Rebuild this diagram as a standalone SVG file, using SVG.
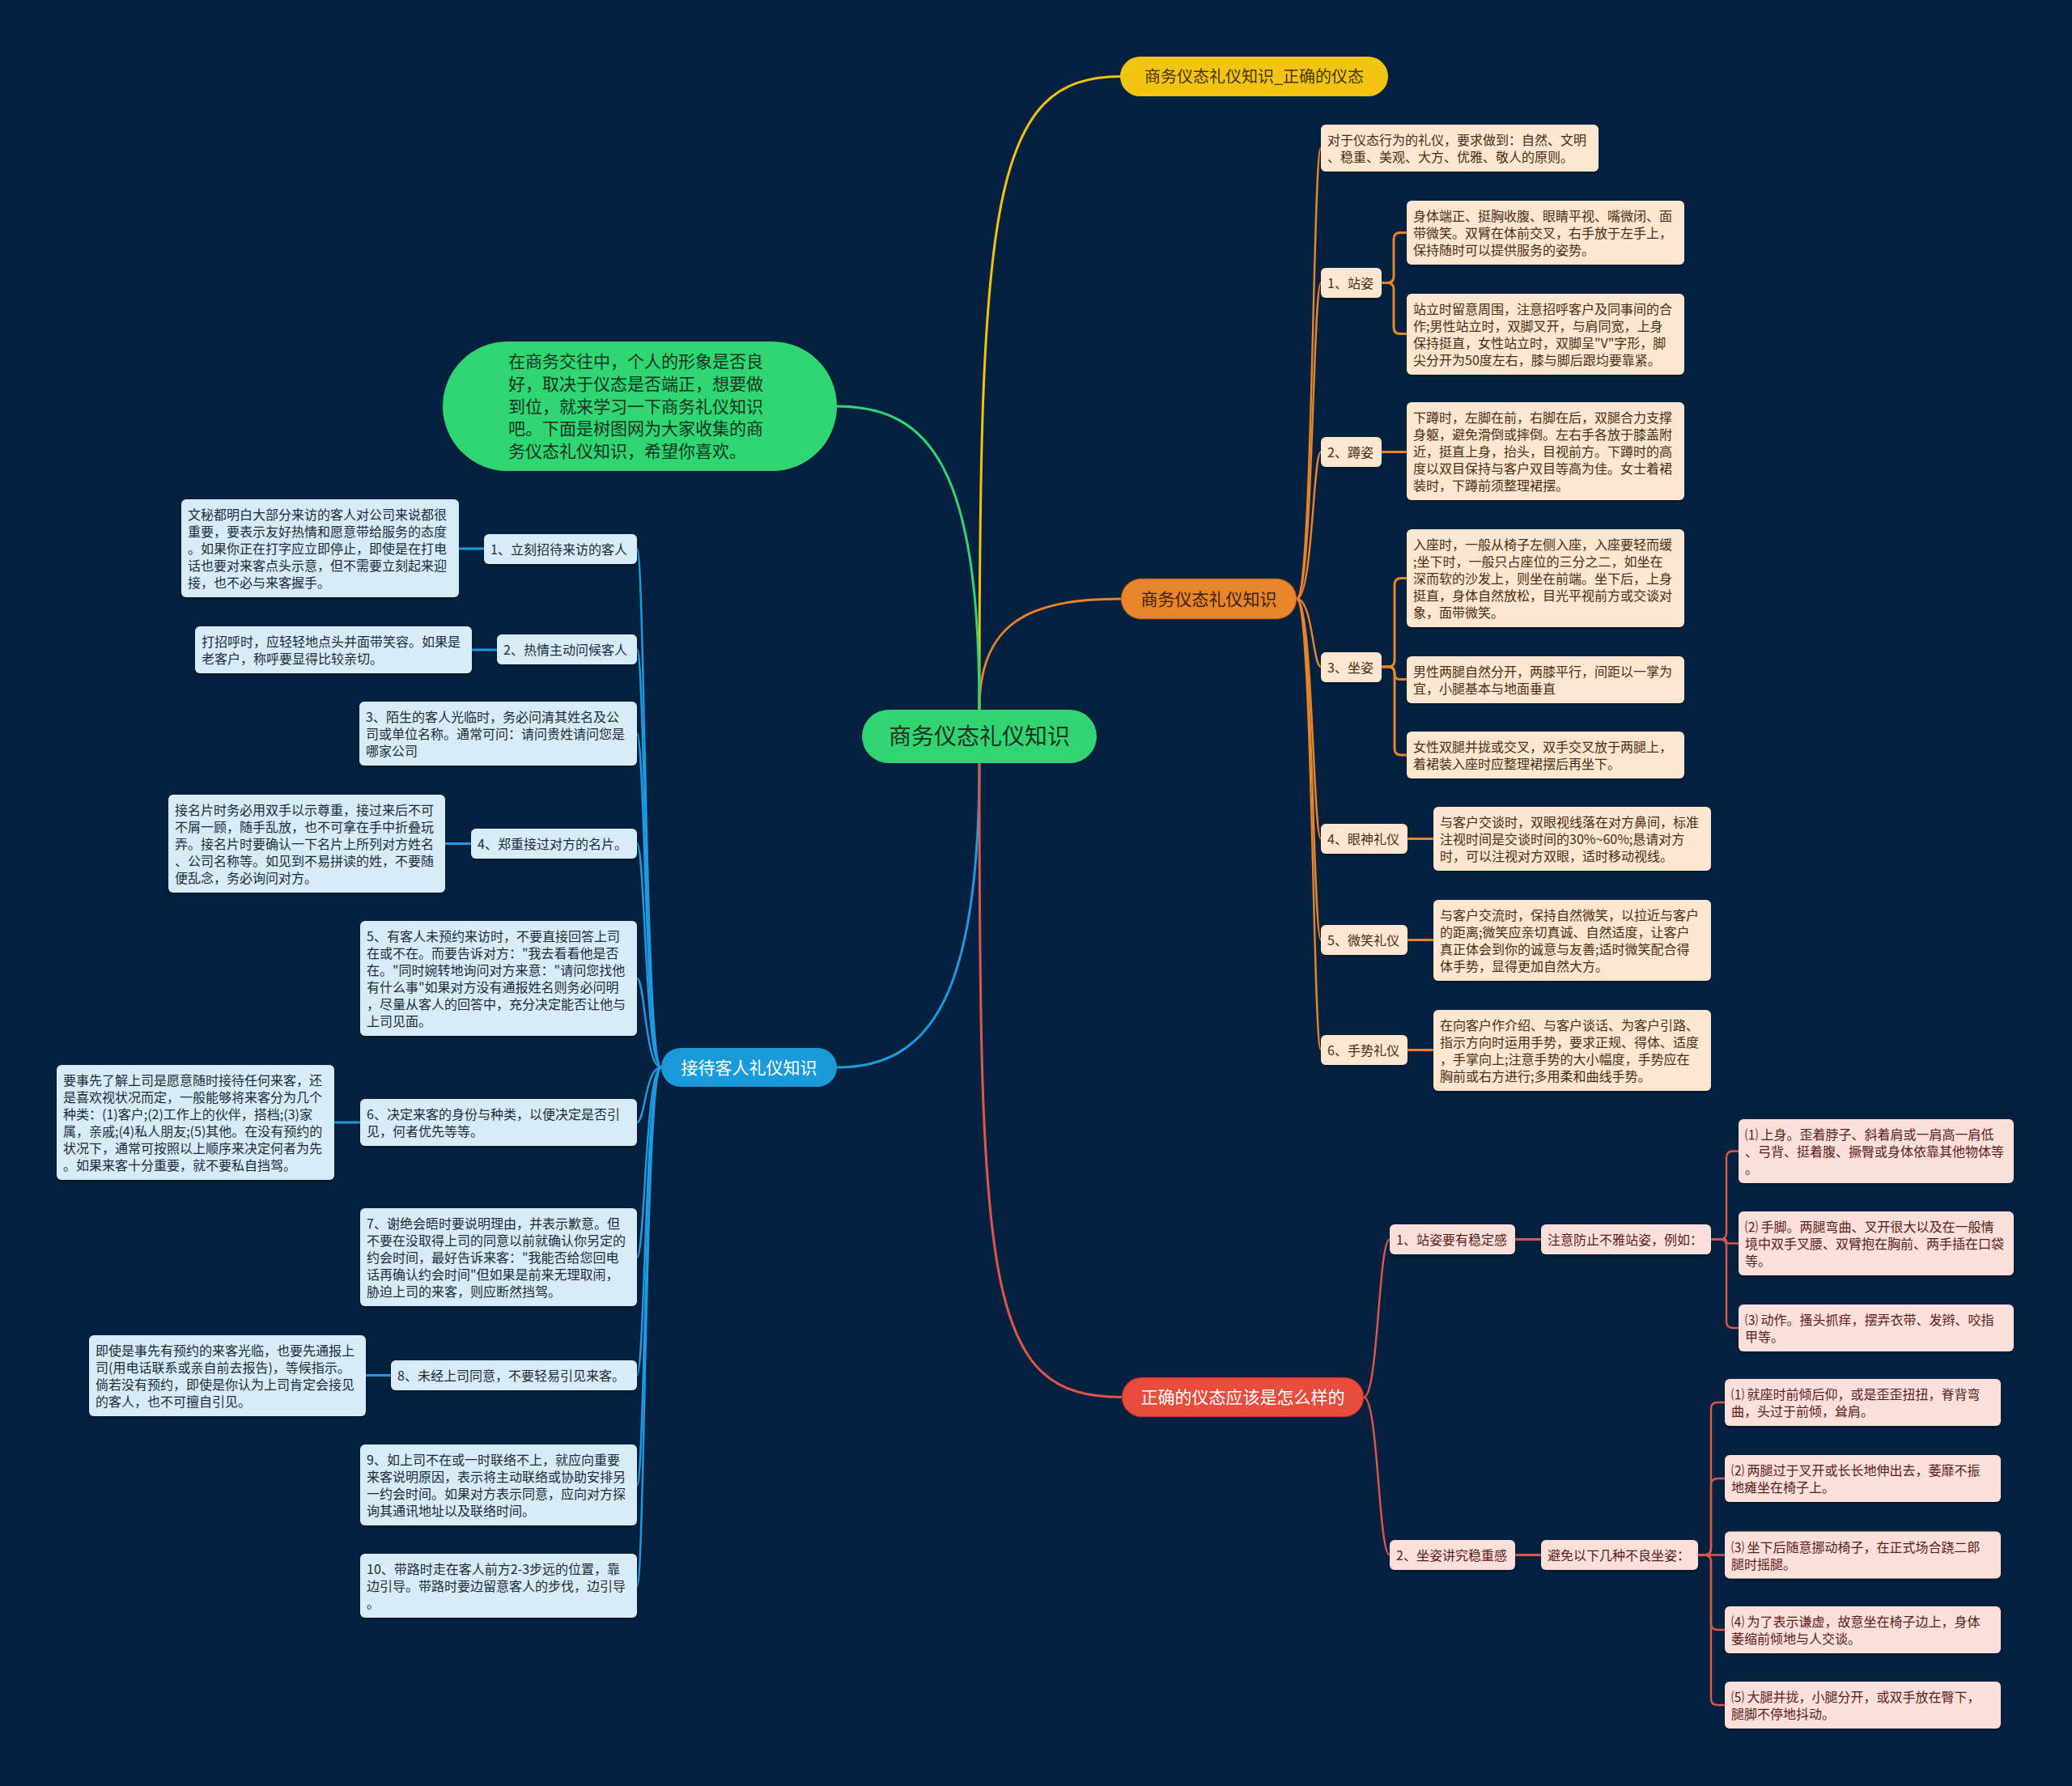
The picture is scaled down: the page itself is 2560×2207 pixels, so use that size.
<svg xmlns="http://www.w3.org/2000/svg" width="2560" height="2207" viewBox="0 0 2560 2207">
<defs>
<style>
text{font-family:"Noto Sans CJK SC","Noto Sans",sans-serif;}
.oc rect{fill:#fce6cf;filter:url(#sh)}
.oc text{fill:#4a2d12;font-size:16px}
.bc rect{fill:#d6edf9;filter:url(#sh)}
.bc text{fill:#1b2a3a;font-size:16px}
.rc rect{fill:#fcdedb;filter:url(#sh)}
.rc text{fill:#5a1c14;font-size:16px}
.c{fill:none;stroke-width:3;stroke-linecap:round}
.c2{stroke-width:2.4}
.co{stroke:#e8852b}
.cb{stroke:#1f9ae0}
.cr{stroke:#e0564a}
.cg{stroke:#2fd672}
.cy{stroke:#f1c40f}
.mid{text-anchor:middle}
</style>
<filter id="sh" x="-10%" y="-20%" width="120%" height="150%"><feDropShadow dx="0" dy="2" stdDeviation="1.5" flood-color="#000" flood-opacity="0.35"/></filter>
</defs>
<rect x="0" y="0" width="2560" height="2207" fill="#04213f"/>

<g id="connectors">
<!-- main branches -->
<path class="c cy" d="M1210 877 C1210 250 1225 94.5 1384 94.5"/>
<path class="c co" d="M1210 877 C1210 770 1270 740 1385 740"/>
<path class="c cg" d="M1210 877 C1210 580 1150 502 1034 502"/>
<path class="c cb" d="M1210 943 C1210 1230 1150 1319 1034 1319"/>
<path class="c cr" d="M1210 943 C1210 1600 1220 1726.5 1386 1726.5"/>
<!-- orange level 2 -->
<path class="c c2 co" d="M1602 740 C1622 740 1622 183 1632 183"/>
<path class="c c2 co" d="M1602 740 C1622 740 1622 349.5 1632 349.5"/>
<path class="c c2 co" d="M1602 740 C1622 740 1622 558.5 1632 558.5"/>
<path class="c c2 co" d="M1602 740 C1622 740 1622 824 1632 824"/>
<path class="c c2 co" d="M1602 740 C1622 740 1622 1036.5 1632 1036.5"/>
<path class="c c2 co" d="M1602 740 C1622 740 1622 1161.5 1632 1161.5"/>
<path class="c c2 co" d="M1602 740 C1622 740 1622 1297 1632 1297"/>
<!-- orange level 3 -->
<path class="c co" d="M1707 349.5 H1714 Q1722 349.5 1722 341.5 V295.5 Q1722 287.5 1730 287.5 H1738"/>
<path class="c co" d="M1707 349.5 H1714 Q1722 349.5 1722 357.5 V404.5 Q1722 412.5 1730 412.5 H1738"/>
<path class="c co" d="M1707 558.5 H1738"/>
<path class="c co" d="M1707 824 H1715 Q1723 824 1723 816 V722.5 Q1723 714.5 1731 714.5 H1738"/>
<path class="c co" d="M1707 824 H1716 Q1723 824 1723 831 V832.5 Q1723 839.5 1730 839.5 H1738"/>
<path class="c co" d="M1707 824 H1715 Q1723 824 1723 832 V925 Q1723 933 1731 933 H1738"/>
<path class="c co" d="M1739 1036.5 H1771"/>
<path class="c co" d="M1739 1161.5 H1771"/>
<path class="c co" d="M1739 1297.5 H1771"/>
<!-- red level 2 -->
<path class="c c2 cr" d="M1685 1726.5 C1703 1726.5 1703 1531.5 1717 1531.5"/>
<path class="c c2 cr" d="M1685 1726.5 C1703 1726.5 1703 1921.5 1717 1921.5"/>
<path class="c cr" d="M1872 1531.5 H1904"/>
<path class="c cr" d="M1872 1921.5 H1904"/>
<!-- red level 4 -->
<path class="c c2 cr" d="M2114 1531.5 H2125 Q2133 1531.5 2133 1523.5 V1430.5 Q2133 1422.5 2141 1422.5 H2148"/>
<path class="c c2 cr" d="M2114 1531.5 H2130.5 Q2133 1531.5 2133 1534 Q2133 1536.5 2135.5 1536.5 H2148"/>
<path class="c c2 cr" d="M2114 1531.5 H2125 Q2133 1531.5 2133 1539.5 V1633 Q2133 1641 2141 1641 H2148"/>
<path class="c c2 cr" d="M2098 1921.5 H2106 Q2114 1921.5 2114 1913.5 V1741 Q2114 1733 2122 1733 H2131"/>
<path class="c c2 cr" d="M2098 1921.5 H2106 Q2114 1921.5 2114 1913.5 V1835 Q2114 1827 2122 1827 H2131"/>
<path class="c c2 cr" d="M2098 1921.5 H2131"/>
<path class="c c2 cr" d="M2098 1921.5 H2106 Q2114 1921.5 2114 1929.5 V2006 Q2114 2014 2122 2014 H2131"/>
<path class="c c2 cr" d="M2098 1921.5 H2106 Q2114 1921.5 2114 1929.5 V2099 Q2114 2107 2122 2107 H2131"/>
<!-- blue level 2 -->
<path class="c c2 cb" d="M817 1319 C797 1319 797 678.5 787 678.5"/>
<path class="c c2 cb" d="M817 1319 C797 1319 797 802.5 787 802.5"/>
<path class="c c2 cb" d="M817 1319 C797 1319 797 906.5 787 906.5"/>
<path class="c c2 cb" d="M817 1319 C797 1319 797 1042.5 787 1042.5"/>
<path class="c c2 cb" d="M817 1319 C797 1319 797 1209 787 1209"/>
<path class="c c2 cb" d="M817 1319 C797 1319 797 1387 787 1387"/>
<path class="c c2 cb" d="M817 1319 C797 1319 797 1553.5 787 1553.5"/>
<path class="c c2 cb" d="M817 1319 C797 1319 797 1699.5 787 1699.5"/>
<path class="c c2 cb" d="M817 1319 C797 1319 797 1835 787 1835"/>
<path class="c c2 cb" d="M817 1319 C797 1319 797 1959.5 787 1959.5"/>
<!-- blue level 3 -->
<path class="c cb" d="M567 678 H598"/>
<path class="c cb" d="M583 803 H614"/>
<path class="c cb" d="M550 1042.5 H582"/>
<path class="c cb" d="M413 1387 H445"/>
<path class="c cb" d="M452 1699.5 H483"/>
</g>

<g id="center">
<rect x="1065" y="877" width="290" height="66" rx="33" fill="#33d572"/>
<text class="mid" x="1210" y="920" font-size="28" fill="#1b3326">商务仪态礼仪知识</text>
</g>

<g id="intro">
<rect x="547" y="422" width="487" height="160" rx="80" fill="#2fd672"/>
<text x="628" y="454" font-size="21" fill="#1b3326"><tspan x="628" dy="0">在商务交往中，个人的形象是否良</tspan><tspan x="628" dy="27.75">好，取决于仪态是否端正，想要做</tspan><tspan x="628" dy="27.75">到位，就来学习一下商务礼仪知识</tspan><tspan x="628" dy="27.75">吧。下面是树图网为大家收集的商</tspan><tspan x="628" dy="27.75">务仪态礼仪知识，希望你喜欢。</tspan></text>
</g>

<g id="yellow">
<rect x="1384" y="70" width="331" height="49" rx="24.5" fill="#f2c511"/>
<text class="mid" x="1549.5" y="101.5" font-size="20" fill="#4a3510">商务仪态礼仪知识_正确的仪态</text>
</g>

<g id="orange">
<rect x="1385" y="715" width="217" height="50" rx="25" fill="#e8842a" stroke="#7a4414" stroke-opacity="0.5" stroke-width="1.5"/>
<text class="mid" x="1493.5" y="748" font-size="21" fill="#3d2212">商务仪态礼仪知识</text>
</g>

<g id="oA" class="oc"><rect x="1632" y="154" width="343" height="58" rx="6"/><text x="1640" y="179"><tspan x="1640" dy="0">对于仪态行为的礼仪，要求做到：自然、文明</tspan><tspan x="1640" dy="21">、稳重、美观、大方、优雅、敬人的原则。</tspan></text></g>
<g id="oB" class="oc"><rect x="1632" y="331" width="75" height="37" rx="6"/><text x="1640" y="356">1、站姿</text></g>
<g id="oB1" class="oc"><rect x="1738" y="248" width="343" height="79" rx="6"/><text x="1746" y="273"><tspan x="1746" dy="0">身体端正、挺胸收腹、眼睛平视、嘴微闭、面</tspan><tspan x="1746" dy="21">带微笑。双臂在体前交叉，右手放于左手上，</tspan><tspan x="1746" dy="21">保持随时可以提供服务的姿势。</tspan></text></g>
<g id="oB2" class="oc"><rect x="1738" y="363" width="343" height="100" rx="6"/><text x="1746" y="388"><tspan x="1746" dy="0">站立时留意周围，注意招呼客户及同事间的合</tspan><tspan x="1746" dy="21">作;男性站立时，双脚叉开，与肩同宽，上身</tspan><tspan x="1746" dy="21">保持挺直，女性站立时，双脚呈"V"字形，脚</tspan><tspan x="1746" dy="21">尖分开为50度左右，膝与脚后跟均要靠紧。</tspan></text></g>
<g id="oC" class="oc"><rect x="1632" y="540" width="75" height="37" rx="6"/><text x="1640" y="565">2、蹲姿</text></g>
<g id="oC1" class="oc"><rect x="1738" y="497" width="343" height="121" rx="6"/><text x="1746" y="522"><tspan x="1746" dy="0">下蹲时，左脚在前，右脚在后，双腿合力支撑</tspan><tspan x="1746" dy="21">身躯，避免滑倒或摔倒。左右手各放于膝盖附</tspan><tspan x="1746" dy="21">近，挺直上身，抬头，目视前方。下蹲时的高</tspan><tspan x="1746" dy="21">度以双目保持与客户双目等高为佳。女士着裙</tspan><tspan x="1746" dy="21">装时，下蹲前须整理裙摆。</tspan></text></g>
<g id="oD" class="oc"><rect x="1632" y="806" width="75" height="37" rx="6"/><text x="1640" y="831">3、坐姿</text></g>
<g id="oD1" class="oc"><rect x="1738" y="654" width="343" height="121" rx="6"/><text x="1746" y="679"><tspan x="1746" dy="0">入座时，一般从椅子左侧入座，入座要轻而缓</tspan><tspan x="1746" dy="21">;坐下时，一般只占座位的三分之二，如坐在</tspan><tspan x="1746" dy="21">深而软的沙发上，则坐在前端。坐下后，上身</tspan><tspan x="1746" dy="21">挺直，身体自然放松，目光平视前方或交谈对</tspan><tspan x="1746" dy="21">象，面带微笑。</tspan></text></g>
<g id="oD2" class="oc"><rect x="1738" y="811" width="343" height="58" rx="6"/><text x="1746" y="836"><tspan x="1746" dy="0">男性两腿自然分开，两膝平行，间距以一掌为</tspan><tspan x="1746" dy="21">宜，小腿基本与地面垂直</tspan></text></g>
<g id="oD3" class="oc"><rect x="1738" y="904" width="343" height="58" rx="6"/><text x="1746" y="929"><tspan x="1746" dy="0">女性双腿并拢或交叉，双手交叉放于两腿上，</tspan><tspan x="1746" dy="21">着裙装入座时应整理裙摆后再坐下。</tspan></text></g>
<g id="oE" class="oc"><rect x="1632" y="1018" width="107" height="37" rx="6"/><text x="1640" y="1043">4、眼神礼仪</text></g>
<g id="oE1" class="oc"><rect x="1771" y="997" width="343" height="79" rx="6"/><text x="1779" y="1022"><tspan x="1779" dy="0">与客户交谈时，双眼视线落在对方鼻间，标准</tspan><tspan x="1779" dy="21">注视时间是交谈时间的30%~60%;恳请对方</tspan><tspan x="1779" dy="21">时，可以注视对方双眼，适时移动视线。</tspan></text></g>
<g id="oF" class="oc"><rect x="1632" y="1143" width="107" height="37" rx="6"/><text x="1640" y="1168">5、微笑礼仪</text></g>
<g id="oF1" class="oc"><rect x="1771" y="1112" width="343" height="100" rx="6"/><text x="1779" y="1137"><tspan x="1779" dy="0">与客户交流时，保持自然微笑，以拉近与客户</tspan><tspan x="1779" dy="21">的距离;微笑应亲切真诚、自然适度，让客户</tspan><tspan x="1779" dy="21">真正体会到你的诚意与友善;适时微笑配合得</tspan><tspan x="1779" dy="21">体手势，显得更加自然大方。</tspan></text></g>
<g id="oG" class="oc"><rect x="1632" y="1279" width="107" height="37" rx="6"/><text x="1640" y="1304">6、手势礼仪</text></g>
<g id="oG1" class="oc"><rect x="1771" y="1248" width="343" height="100" rx="6"/><text x="1779" y="1273"><tspan x="1779" dy="0">在向客户作介绍、与客户谈话、为客户引路、</tspan><tspan x="1779" dy="21">指示方向时运用手势，要求正规、得体、适度</tspan><tspan x="1779" dy="21">，手掌向上;注意手势的大小幅度，手势应在</tspan><tspan x="1779" dy="21">胸前或右方进行;多用柔和曲线手势。</tspan></text></g>

<g id="red">
<rect x="1386" y="1702" width="299" height="49" rx="24.5" fill="#e74c3c" stroke="#7a1e14" stroke-opacity="0.5" stroke-width="1.5"/>
<text class="mid" x="1535.5" y="1734" font-size="21" fill="#ffffff">正确的仪态应该是怎么样的</text>
</g>
<g id="r1" class="rc"><rect x="1717" y="1513" width="155" height="37" rx="6"/><text x="1725" y="1538">1、站姿要有稳定感</text></g>
<g id="r1a" class="rc"><rect x="1904" y="1513" width="210" height="37" rx="6"/><text x="1912" y="1538">注意防止不雅站姿，例如：</text></g>
<g id="rH1" class="rc"><rect x="2148" y="1383" width="340" height="79" rx="6"/><text x="2156" y="1408"><tspan x="2156" dy="0">⑴ 上身。歪着脖子、斜着肩或一肩高一肩低</tspan><tspan x="2156" dy="21">、弓背、挺着腹、撅臀或身体依靠其他物体等</tspan><tspan x="2156" dy="21">。</tspan></text></g>
<g id="rH2" class="rc"><rect x="2148" y="1497" width="340" height="79" rx="6"/><text x="2156" y="1522"><tspan x="2156" dy="0">⑵ 手脚。两腿弯曲、叉开很大以及在一般情</tspan><tspan x="2156" dy="21">境中双手叉腰、双臂抱在胸前、两手插在口袋</tspan><tspan x="2156" dy="21">等。</tspan></text></g>
<g id="rH3" class="rc"><rect x="2148" y="1612" width="340" height="58" rx="6"/><text x="2156" y="1637"><tspan x="2156" dy="0">⑶ 动作。搔头抓痒，摆弄衣带、发辫、咬指</tspan><tspan x="2156" dy="21">甲等。</tspan></text></g>
<g id="r2" class="rc"><rect x="1717" y="1903" width="155" height="37" rx="6"/><text x="1725" y="1928">2、坐姿讲究稳重感</text></g>
<g id="r2a" class="rc"><rect x="1904" y="1903" width="194" height="37" rx="6"/><text x="1912" y="1928">避免以下几种不良坐姿：</text></g>
<g id="rI1" class="rc"><rect x="2131" y="1704" width="341" height="58" rx="6"/><text x="2139" y="1729"><tspan x="2139" dy="0">⑴ 就座时前倾后仰，或是歪歪扭扭，脊背弯</tspan><tspan x="2139" dy="21">曲，头过于前倾，耸肩。</tspan></text></g>
<g id="rI2" class="rc"><rect x="2131" y="1798" width="341" height="58" rx="6"/><text x="2139" y="1823"><tspan x="2139" dy="0">⑵ 两腿过于叉开或长长地伸出去，萎靡不振</tspan><tspan x="2139" dy="21">地瘫坐在椅子上。</tspan></text></g>
<g id="rI3" class="rc"><rect x="2131" y="1892.5" width="341" height="58" rx="6"/><text x="2139" y="1917.5"><tspan x="2139" dy="0">⑶ 坐下后随意挪动椅子，在正式场合跷二郎</tspan><tspan x="2139" dy="21">腿时摇腿。</tspan></text></g>
<g id="rI4" class="rc"><rect x="2131" y="1985" width="341" height="58" rx="6"/><text x="2139" y="2010"><tspan x="2139" dy="0">⑷ 为了表示谦虚，故意坐在椅子边上，身体</tspan><tspan x="2139" dy="21">萎缩前倾地与人交谈。</tspan></text></g>
<g id="rI5" class="rc"><rect x="2131" y="2078" width="341" height="58" rx="6"/><text x="2139" y="2103"><tspan x="2139" dy="0">⑸ 大腿并拢，小腿分开，或双手放在臀下，</tspan><tspan x="2139" dy="21">腿脚不停地抖动。</tspan></text></g>

<g id="blue">
<rect x="817" y="1295" width="217" height="48" rx="24" fill="#1b9ad9"/>
<text class="mid" x="925.5" y="1326.5" font-size="21" fill="#ffffff">接待客人礼仪知识</text>
</g>
<g id="bJ" class="bc"><rect x="598" y="660" width="189" height="37" rx="6"/><text x="606" y="685">1、立刻招待来访的客人</text></g>
<g id="bJ1" class="bc"><rect x="224" y="617" width="343" height="121" rx="6"/><text x="232" y="642"><tspan x="232" dy="0">文秘都明白大部分来访的客人对公司来说都很</tspan><tspan x="232" dy="21">重要，要表示友好热情和愿意带给服务的态度</tspan><tspan x="232" dy="21">。如果你正在打字应立即停止，即使是在打电</tspan><tspan x="232" dy="21">话也要对来客点头示意，但不需要立刻起来迎</tspan><tspan x="232" dy="21">接，也不必与来客握手。</tspan></text></g>
<g id="bK" class="bc"><rect x="614" y="784" width="173" height="37" rx="6"/><text x="622" y="809">2、热情主动问候客人</text></g>
<g id="bK1" class="bc"><rect x="241" y="774" width="342" height="58" rx="6"/><text x="249" y="799"><tspan x="249" dy="0">打招呼时，应轻轻地点头并面带笑容。如果是</tspan><tspan x="249" dy="21">老客户，称呼要显得比较亲切。</tspan></text></g>
<g id="bL" class="bc"><rect x="444" y="867" width="343" height="79" rx="6"/><text x="452" y="892"><tspan x="452" dy="0">3、陌生的客人光临时，务必问清其姓名及公</tspan><tspan x="452" dy="21">司或单位名称。通常可问：请问贵姓请问您是</tspan><tspan x="452" dy="21">哪家公司</tspan></text></g>
<g id="bM" class="bc"><rect x="582" y="1024" width="205" height="37" rx="6"/><text x="590" y="1049">4、郑重接过对方的名片。</text></g>
<g id="bM1" class="bc"><rect x="208" y="982" width="342" height="121" rx="6"/><text x="216" y="1007"><tspan x="216" dy="0">接名片时务必用双手以示尊重，接过来后不可</tspan><tspan x="216" dy="21">不屑一顾，随手乱放，也不可拿在手中折叠玩</tspan><tspan x="216" dy="21">弄。接名片时要确认一下名片上所列对方姓名</tspan><tspan x="216" dy="21">、公司名称等。如见到不易拼读的姓，不要随</tspan><tspan x="216" dy="21">便乱念，务必询问对方。</tspan></text></g>
<g id="bN" class="bc"><rect x="445" y="1138" width="342" height="142" rx="6"/><text x="453" y="1163"><tspan x="453" dy="0">5、有客人未预约来访时，不要直接回答上司</tspan><tspan x="453" dy="21">在或不在。而要告诉对方："我去看看他是否</tspan><tspan x="453" dy="21">在。"同时婉转地询问对方来意："请问您找他</tspan><tspan x="453" dy="21">有什么事"如果对方没有通报姓名则务必问明</tspan><tspan x="453" dy="21">，尽量从客人的回答中，充分决定能否让他与</tspan><tspan x="453" dy="21">上司见面。</tspan></text></g>
<g id="bO" class="bc"><rect x="445" y="1358" width="342" height="58" rx="6"/><text x="453" y="1383"><tspan x="453" dy="0">6、决定来客的身份与种类，以便决定是否引</tspan><tspan x="453" dy="21">见，何者优先等等。</tspan></text></g>
<g id="bO1" class="bc"><rect x="70" y="1316" width="343" height="142" rx="6"/><text x="78" y="1341"><tspan x="78" dy="0">要事先了解上司是愿意随时接待任何来客，还</tspan><tspan x="78" dy="21">是喜欢视状况而定，一般能够将来客分为几个</tspan><tspan x="78" dy="21">种类：(1)客户;(2)工作上的伙伴，搭档;(3)家</tspan><tspan x="78" dy="21">属，亲戚;(4)私人朋友;(5)其他。在没有预约的</tspan><tspan x="78" dy="21">状况下，通常可按照以上顺序来决定何者为先</tspan><tspan x="78" dy="21">。如果来客十分重要，就不要私自挡驾。</tspan></text></g>
<g id="bP" class="bc"><rect x="445" y="1493" width="342" height="121" rx="6"/><text x="453" y="1518"><tspan x="453" dy="0">7、谢绝会晤时要说明理由，并表示歉意。但</tspan><tspan x="453" dy="21">不要在没取得上司的同意以前就确认你另定的</tspan><tspan x="453" dy="21">约会时间，最好告诉来客："我能否给您回电</tspan><tspan x="453" dy="21">话再确认约会时间"但如果是前来无理取闹，</tspan><tspan x="453" dy="21">胁迫上司的来客，则应断然挡驾。</tspan></text></g>
<g id="bQ" class="bc"><rect x="483" y="1681" width="304" height="37" rx="6"/><text x="491" y="1706">8、未经上司同意，不要轻易引见来客。</text></g>
<g id="bQ1" class="bc"><rect x="110" y="1650" width="342" height="100" rx="6"/><text x="118" y="1675"><tspan x="118" dy="0">即使是事先有预约的来客光临，也要先通报上</tspan><tspan x="118" dy="21">司(用电话联系或亲自前去报告)，等候指示。</tspan><tspan x="118" dy="21">倘若没有预约，即使是你认为上司肯定会接见</tspan><tspan x="118" dy="21">的客人，也不可擅自引见。</tspan></text></g>
<g id="bR" class="bc"><rect x="445" y="1785" width="342" height="100" rx="6"/><text x="453" y="1810"><tspan x="453" dy="0">9、如上司不在或一时联络不上，就应向重要</tspan><tspan x="453" dy="21">来客说明原因，表示将主动联络或协助安排另</tspan><tspan x="453" dy="21">一约会时间。如果对方表示同意，应向对方探</tspan><tspan x="453" dy="21">询其通讯地址以及联络时间。</tspan></text></g>
<g id="bS" class="bc"><rect x="445" y="1920" width="342" height="79" rx="6"/><text x="453" y="1945"><tspan x="453" dy="0">10、带路时走在客人前方2-3步远的位置，靠</tspan><tspan x="453" dy="21">边引导。带路时要边留意客人的步伐，边引导</tspan><tspan x="453" dy="21">。</tspan></text></g>
</svg>
